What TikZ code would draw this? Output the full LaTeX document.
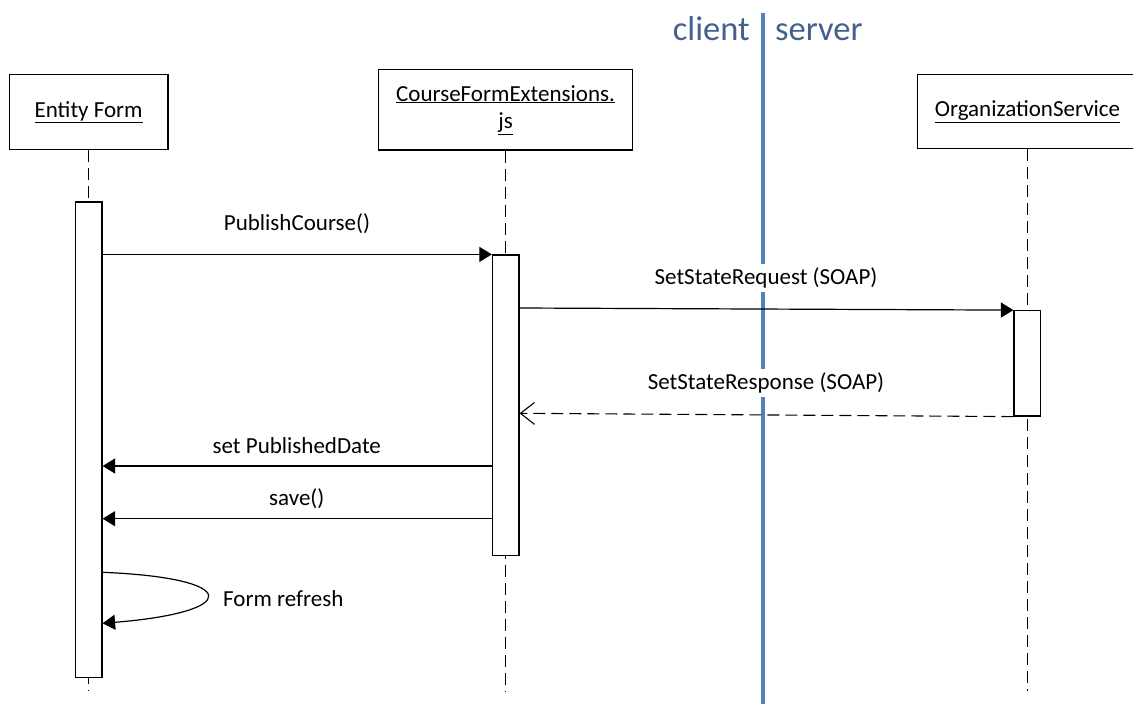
\documentclass[tikz,border=0pt]{standalone}
\usepackage{fontspec}
\setmainfont{Carlito}
\usetikzlibrary{arrows.meta}
\definecolor{divline}{RGB}{79,129,189}
\definecolor{divtext}{RGB}{68,96,140}
\tikzset{
  every node/.style={font=\fontsize{23}{27.6}\selectfont},
  objbox/.style={draw, line width=1.2pt, fill=white, inner sep=0pt, align=center},
  actbar/.style={draw, line width=1.2pt, fill=white, inner sep=0pt, minimum width=26.6pt},
  lifeline/.style={line width=1.1pt, dash pattern=on 12pt off 6pt},
  msg/.style={line width=1.2pt, -{Triangle[length=12.5pt,width=15pt]}},
  reply/.style={line width=1.1pt, dash pattern=on 12pt off 6pt, -{Straight Barb[length=14pt,width=22pt,line width=1.1pt]}},
  msglabel/.style={inner sep=3.3pt},
  divlabel/.style={text=divtext, font=\fontsize{34.5}{40}\selectfont, anchor=base, inner sep=0pt}
}
\begin{document}
\begin{tikzpicture}[x=1pt, y=-1pt]
\useasboundingbox (0,0) rectangle (1133,704);
\clip (0,0) rectangle (1133,704);

% participants
\node[objbox, minimum width=158.7pt, minimum height=74.3pt] (ef) at (88.6,112) {\underline{Entity Form}};
\node[objbox, minimum width=254pt, minimum height=80.3pt] (cf) at (505.6,109.9) {\underline{CourseFormExtensions.}\\\underline{js}};
\node[objbox, minimum width=220pt, minimum height=74pt] (os) at (1027.5,111.7) {\underline{OrganizationService}};

% lifeline ends
\coordinate (efend) at (88.6,691);
\coordinate (cfend) at (505.6,691.7);
\coordinate (osend) at (1027.5,691);

\draw[lifeline] (ef.south) -- (efend);
\draw[lifeline] (cf.south) -- (cfend);
\draw[lifeline] (os.south) -- (osend);

% client / server divider
\coordinate (divtop) at (762.8,13.3);
\coordinate (divbot) at (762.8,704);
\draw[divline, line width=4.5pt] (divtop) -- (divbot);
\node[divlabel] (client) at (711.3,40) {client};
\node[divlabel] (server) at (818.8,40) {server};

% activation bars
\node[actbar, minimum height=475.3pt] (efact) at (88.7,439.65) {};
\node[actbar, minimum height=300.7pt] (cfact) at (505.75,405.35) {};
\node[actbar, minimum height=105.3pt] (osact) at (1027.3,363.35) {};

% message levels
\coordinate (y2) at (0,308);
\coordinate (y3) at (0,413.3);
\coordinate (y4) at (0,466);
\coordinate (y5) at (0,518.7);
\coordinate (loopA) at (0,572.3);
\coordinate (loopB) at (0,623.3);

% messages
\draw[msg] (efact.east |- cfact.north) -- (cfact.north west);
\node[msglabel] (lpc) at (297,224) {PublishCourse()};

\draw[msg] (cfact.east |- y2) -- (osact.north west);
\node[msglabel, fill=white] (lreq) at (766,278) {SetStateRequest (SOAP)};

\draw[reply] (osact.south west) -- (cfact.east |- y3);
\node[msglabel, fill=white] (lresp) at (766,383) {SetStateResponse (SOAP)};

\draw[msg] (cfact.west |- y4) -- (efact.east |- y4);
\node[msglabel] (lspd) at (296.8,445.7) {set PublishedDate};

\draw[msg] (cfact.west |- y5) -- (efact.east |- y5);
\node[msglabel] (lsave) at (296.8,499) {save()};

% self call
\draw[msg] (efact.east |- loopA) .. controls (242,578) and (242,612) .. (efact.east |- loopB);
\node[msglabel, anchor=west] (lref) at (219.7,598.3) {Form refresh};
\end{tikzpicture}
\end{document}
